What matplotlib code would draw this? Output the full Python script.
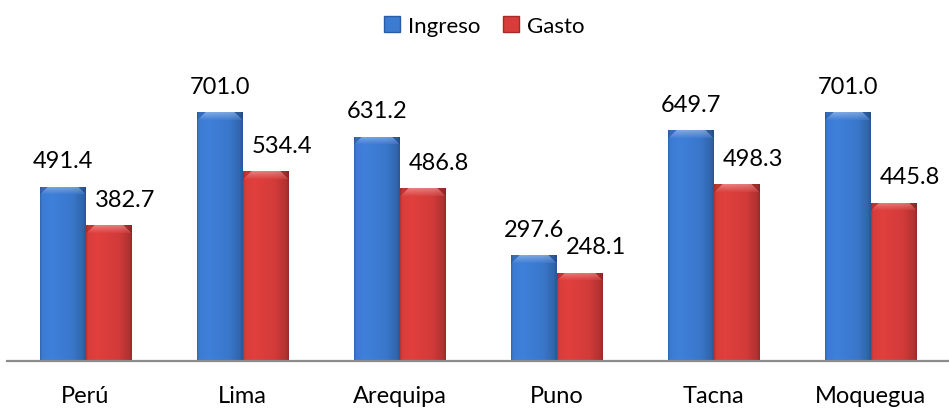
import numpy as np
import matplotlib
matplotlib.use("Agg")
import matplotlib.pyplot as plt
from matplotlib.lines import Line2D
from matplotlib.colors import to_rgb

plt.rcParams['font.family'] = ['Lato', 'DejaVu Sans']

categories = ["Perú", "Lima", "Arequipa", "Puno", "Tacna", "Moquegua"]
ingreso = [491.4, 701.0, 631.2, 297.6, 649.7, 701.0]
gasto = [382.7, 534.4, 486.8, 248.1, 498.3, 445.8]
series_names = ["Ingreso", "Gasto"]

BLUE = "#3C7BD2"
RED = "#D83D3B"

W, H, DPI = 949, 410, 100
fig = plt.figure(figsize=(W / DPI, H / DPI), dpi=DPI)
ax = fig.add_axes([7 / W, 48 / H, 942 / W, 355 / H])
ax.set_xlim(-0.5, len(categories) - 0.5)
ax.set_ylim(0, 1000)

bw = 0.287
x = np.arange(len(categories))


def shade_bar(ax, patch, color):
    c = np.array(to_rgb(color))
    x0, y0 = patch.get_x(), patch.get_y()
    w, h = patch.get_width(), patch.get_height()
    p0 = ax.transData.transform((x0, y0))
    p1 = ax.transData.transform((x0 + w, y0 + h))
    pw = max(int(round(p1[0] - p0[0])), 2)
    ph = max(int(round(p1[1] - p0[1])), 2)
    xs = (np.arange(pw) + 0.5) / pw
    hf = np.interp(xs, [0, 0.05, 0.25, 0.7, 0.93, 1.0], [0.82, 1.0, 1.04, 0.97, 0.82, 0.70])
    img = np.ones((ph, pw, 3)) * c[None, None, :] * hf[None, :, None]
    bev = 8
    for r in range(min(bev, ph)):
        inset = bev - r
        lo, hi = inset, pw - inset
        t = r / bev
        img[r, :, :] = img[r, :, :] * 0.88
        if hi > lo:
            light = c + (1 - c) * (0.32 * (1 - t))
            seg = np.ones((hi - lo, 3)) * light[None, :] * hf[lo:hi, None] ** 0.5
            img[r, lo:hi, :] = seg
    img = np.clip(img, 0, 1)
    im = ax.imshow(img, extent=(x0, x0 + w, y0, y0 + h), aspect='auto',
                   origin='upper', zorder=2, interpolation='bilinear')
    im.set_clip_path(patch)


bars_i = ax.bar(x - bw / 2, ingreso, bw, color=BLUE, zorder=1, linewidth=0)
bars_g = ax.bar(x + bw / 2, gasto, bw, color=RED, zorder=1, linewidth=0)
for b in bars_i:
    shade_bar(ax, b, BLUE)
for b in bars_g:
    shade_bar(ax, b, RED)

for xi, v in zip(x, ingreso):
    ax.annotate(f"{v:.1f}", (xi - bw / 2, v), xytext=(0, 26), textcoords='offset pixels',
                ha='center', va='center', fontsize=17, color='#000000')
for xi, v in zip(x, gasto):
    ax.annotate(f"{v:.1f}", (xi + bw / 2, v), xytext=(17, 26), textcoords='offset pixels',
                ha='center', va='center', fontsize=17, color='#000000')

for s in ['top', 'left', 'right']:
    ax.spines[s].set_visible(False)
ax.spines['bottom'].set_color('#8C8C8C')
ax.spines['bottom'].set_linewidth(1.6)
ax.set_yticks([])
ax.set_xticks(x)
ax.set_xticklabels(categories, fontsize=17)
ax.tick_params(axis='x', length=0, pad=17)

handles = [Line2D([], [], marker='s', linestyle='none', markersize=11,
                  markerfacecolor=BLUE, markeredgecolor='#2A5CA5'),
           Line2D([], [], marker='s', linestyle='none', markersize=11,
                  markerfacecolor=RED, markeredgecolor='#A52A28')]
fig.legend(handles, series_names, loc='center', bbox_to_anchor=(484 / W, 1 - 27 / H),
           ncol=2, frameon=False, fontsize=16, handlelength=0.8, handletextpad=0.3,
           columnspacing=1.0)

fig.savefig("out.png", dpi=DPI)
